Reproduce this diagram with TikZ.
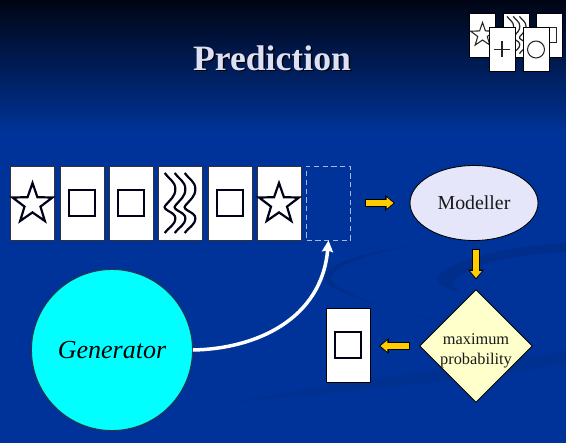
\documentclass[tikz,border=0pt]{standalone}
\usepackage{xcolor}
\usepackage{fontspec}
\setmainfont{Liberation Serif}
\usepackage{tikz}
\usetikzlibrary{positioning,arrows.meta,shapes.geometric}

\definecolor{slideblue}{HTML}{003399}
\definecolor{swooshblue}{HTML}{002E8A}
\definecolor{slidetop}{HTML}{000514}
\definecolor{titlelilac}{HTML}{DDE0F5}
\definecolor{modellerfill}{HTML}{E6E6FA}
\definecolor{diamondfill}{HTML}{FFFFCC}
\definecolor{arrowyellow}{HTML}{FFCC00}
\definecolor{generatorfill}{HTML}{00FFFF}

\tikzset{
  card/.style={rectangle, draw=black!80, fill=white, line width=0.5pt, minimum width=0.88cm, minimum height=1.48cm, inner sep=0},
  smallcard/.style={rectangle, draw=black, fill=white, line width=0.4pt, minimum width=0.52cm, minimum height=0.88cm, inner sep=0},
  emptycard/.style={rectangle, draw=white!65!slideblue, densely dashed, line width=0.4pt, minimum width=0.88cm, minimum height=1.48cm, inner sep=0},
  glyph/.style={draw=black!90!blue, line width=1.25pt, inner sep=0},
  smallglyph/.style={draw=black!85, line width=0.6pt, inner sep=0},
  starglyph/.style={star, star points=5, star point ratio=2.5, minimum size=#1},
  squareglyph/.style={rectangle, minimum size=#1},
  blockarrow/.style 2 args={
    preaction={draw=black, line width=0.16cm, -{Triangle[length=0.2cm,width=0.3cm]},
      shorten <=#1-0.02cm, shorten >=#2-0.03cm},
    draw=arrowyellow, line width=0.12cm, -{Triangle[length=0.14cm,width=0.22cm]},
    shorten <=#1, shorten >=#2},
  pics/wavesym/.style={code={
    \foreach \dx in {-0.2,0,0.2}
      \draw[pic actions, xshift=\dx cm] (-0.107,0.6) to[out=-55,in=90] (0.107,0.28)
        to[out=-90,in=50] (-0.093,-0.05) to[out=-130,in=90] (0.107,-0.3)
        to[out=-90,in=55] (-0.107,-0.6);
  }}
}

\begin{document}
\begin{tikzpicture}
\useasboundingbox (0,0) rectangle (11.32,8.86);

% background
\fill[slideblue] (0,0) rectangle (11.32,8.86);
\shade[top color=slidetop, bottom color=slideblue] (0,6.2) rectangle (11.32,8.86);
\fill[swooshblue] (11.32,4.0) .. controls (9.94,3.92) and (8.94,3.6) .. (8.76,3.32)
  .. controls (8.7,3.2) and (8.95,3.05) .. (9.2,3.02)
  .. controls (9.1,3.1) and (9.06,3.18) .. (9.06,3.22)
  .. controls (9.4,3.6) and (10.26,3.76) .. (11.32,3.82) -- cycle;
\fill[swooshblue] (8.54,4.0) .. controls (7.4,3.85) and (6.5,3.6) .. (6.48,3.3)
  .. controls (6.5,3.0) and (8.2,2.5) .. (10.6,2.1)
  .. controls (8.3,2.42) and (6.65,3.0) .. (6.62,3.3)
  .. controls (6.7,3.6) and (7.6,3.85) .. (8.54,4.0) -- cycle;
\fill[swooshblue, fill opacity=0.6] (11.32,1.86) .. controls (10.0,1.6) and (7.4,1.35) .. (4.6,0.8)
  .. controls (7.0,1.05) and (9.6,1.25) .. (11.32,1.6) -- cycle;

% title
\node[text=black, font=\fontsize{20.3}{24}\selectfont\bfseries] (titleshadow) at (5.47,7.67) {Prediction};
\node[text=titlelilac, font=\fontsize{20.3}{24}\selectfont\bfseries] (title) at (5.44,7.7) {Prediction};

% small cards
\node[smallcard] (smallstar) at (9.64,8.16) {};
\node[smallcard] (smallwave) at (10.33,8.16) {};
\node[smallcard] (smallsquare) at (10.98,8.16) {};
\node[smallglyph, starglyph=0.5cm] (smallstarglyph) at (9.65,8.16) {};
\pic[smallglyph, line width=0.7pt, scale=0.62] at (10.33,8.16) {wavesym};
\node[smallglyph, squareglyph=0.3cm] (smallsquareglyph) at (10.98,8.16) {};
\node[smallcard] (smallplus) at (10.04,7.87) {};
\node[smallcard] (smallcircle) at (10.72,7.87) {};
\node[coordinate] (plusl) at (9.88,7.87) {};
\node[coordinate] (plusr) at (10.2,7.87) {};
\node[coordinate] (plust) at (10.04,8.03) {};
\node[coordinate] (plusb) at (10.04,7.71) {};
\draw[smallglyph] (plusl) -- (plusr);
\draw[smallglyph] (plust) -- (plusb);
\node[smallglyph, circle, minimum size=0.34cm] (smallcircleglyph) at (10.72,7.87) {};

% sequence of cards
\foreach \name/\x in {s1/0.65, s2/1.64, s3/2.62, s4/3.6, s5/4.6, s6/5.58}
  \node[card] (\name) at (\x,4.8) {};
\node[emptycard] (s7) at (6.57,4.8) {};
\node[glyph, starglyph=0.84cm] (g1) at (0.65,4.78) {};
\node[glyph, squareglyph=0.52cm] (g2) at (s2) {};
\node[glyph, squareglyph=0.52cm] (g3) at (s3) {};
\pic[glyph] at (s4) {wavesym};
\node[glyph, squareglyph=0.52cm] (g5) at (s5) {};
\node[glyph, starglyph=0.84cm] (g6) at (5.58,4.78) {};

% generator, modeller and decision
\node[circle, draw=black!80, fill=generatorfill, line width=0.5pt, minimum size=3.22cm, font=\fontsize{14.8}{18}\selectfont\itshape] (generator) at (2.24,1.86) {Generator};
\node[ellipse, draw=black, fill=modellerfill, line width=0.5pt, minimum width=2.56cm, minimum height=1.5cm, inner sep=0, font=\fontsize{11.3}{14}\selectfont, text=black!90] (modeller) at (9.48,4.8) {Modeller};
\node[diamond, draw=black, fill=diamondfill, line width=0.5pt, minimum size=2.26cm, inner sep=0] (decision) at (9.52,1.94) {};
\node[align=center, font=\fontsize{9.3}{11.2}\selectfont, text=black!90] (decisiontext) at (9.52,1.84) {maximum\\probability};

% predicted card
\node[card, draw=black] (result) at (6.96,1.96) {};
\node[glyph, squareglyph=0.52cm] (resultglyph) at (result) {};

% connectors
\draw[white, line width=0.07cm, -{Stealth[length=0.23cm,width=0.22cm,inset=0.03cm]}] (generator.east) to[out=1, in=-95, out distance=1.24cm, in distance=1.6cm] (s7.south);
\draw[blockarrow={0.3cm}{0.32cm}] (s7) -- (modeller);
\draw[blockarrow={0.18cm}{0.22cm}] (modeller.south -| decision.north) -- (decision);
\draw[blockarrow={0.2cm}{0.2cm}] (decision.west) -- (decision.west -| result.east);

\end{tikzpicture}
\end{document}
